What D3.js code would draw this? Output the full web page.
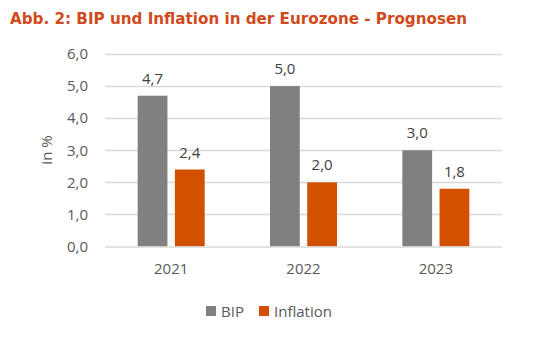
<!DOCTYPE html>
<html><head><meta charset="utf-8">
<script src="https://cdn.jsdelivr.net/npm/d3@7"></script>
<style>body{margin:0;background:#fff}svg{display:block}</style>
</head><body>
<script>
const categories = ["2021", "2022", "2023"];
const seriesNames = ["BIP", "Inflation"];
const bip = [4.7, 5.0, 3.0];
const inflation = [2.4, 2.0, 1.8];
const yTicks = [0, 1, 2, 3, 4, 5, 6];
const title = "Abb. 2: BIP und Inflation in der Eurozone - Prognosen";
const yTitle = "in %";
const colors = ["#808080", "#D35000"];

const W = 546, H = 337;
const svg = d3.select("body").append("svg").attr("width", W).attr("height", H);
const font = "'Open Sans', 'Liberation Sans', sans-serif";
const fmt = v => d3.format(".1f")(v).replace(".", ",");

const x = d3.scaleBand().domain(categories).range([105, 502]).paddingInner(0).paddingOuter(0);
const y = d3.scaleLinear().domain([0, 6]).range([246.5, 54]);
const xs = d3.scaleBand().domain(seriesNames).range([-33.5, 33.5]).paddingInner(0.2);

svg.append("text").attr("x", 10).attr("y", 24).text(title)
  .attr("font-family", "'DejaVu Sans Condensed', 'DejaVu Sans', sans-serif").attr("font-stretch", "condensed")
  .attr("font-weight", "bold")
  .attr("font-size", 16.5).attr("fill", "#D14A1B")
  .attr("textLength", 457).attr("lengthAdjust", "spacingAndGlyphs");

// gridlines
svg.append("g").selectAll("line").data(yTicks.slice(1)).join("line")
  .attr("x1", 105).attr("x2", 502).attr("y1", d => Math.round(y(d)) + 0.5).attr("y2", d => Math.round(y(d)) + 0.5)
  .attr("stroke", "#D9D9D9").attr("stroke-width", 1.3);

// y axis labels
const yAxis = d3.axisLeft(y).tickValues(yTicks).tickFormat(fmt).tickSize(0).tickPadding(0);
const ga = svg.append("g").attr("transform", "translate(88,0)").call(yAxis);
ga.select(".domain").remove();
ga.selectAll("text").attr("font-family", font).attr("font-size", 15).attr("fill", "#595959");

svg.append("text").attr("transform", "translate(52,150) rotate(-90)").attr("text-anchor", "middle")
  .text(yTitle).attr("font-family", font).attr("font-size", 15).attr("fill", "#595959");

const data = categories.map((c, i) => ({c, vals: [bip[i], inflation[i]]}));
const groups = svg.append("g").selectAll("g").data(data).join("g")
  .attr("transform", d => `translate(${x(d.c) + x.bandwidth() / 2},0)`);
groups.selectAll("rect").data(d => d.vals.map((v, j) => ({v, s: seriesNames[j], j}))).join("rect")
  .attr("x", d => xs(d.s)).attr("width", xs.bandwidth())
  .attr("y", d => y(d.v)).attr("height", d => y(0) - y(d.v))
  .attr("fill", d => colors[d.j]);
groups.selectAll("text").data(d => d.vals.map((v, j) => ({v, s: seriesNames[j], j}))).join("text")
  .attr("x", d => xs(d.s) + xs.bandwidth() / 2).attr("y", d => y(d.v) - 12)
  .attr("text-anchor", "middle").text(d => fmt(d.v))
  .attr("font-family", font).attr("font-size", 15).attr("fill", "#404040");

// baseline
svg.append("line").attr("x1", 105).attr("x2", 502).attr("y1", y(0) + 0.5).attr("y2", y(0) + 0.5)
  .attr("stroke", "#D9D9D9").attr("stroke-width", 1.3);

// x axis
const xAxis = d3.axisBottom(x).tickSize(0).tickPadding(0);
const gx = svg.append("g").attr("transform", `translate(0,${y(0) + 17})`).call(xAxis);
gx.select(".domain").remove();
gx.selectAll("text").attr("font-family", font).attr("font-size", 15).attr("fill", "#595959");

// legend
const legX = [206, 259];
const leg = svg.append("g").selectAll("g").data(seriesNames).join("g")
  .attr("transform", (d, i) => `translate(${legX[i]},306)`);
leg.append("rect").attr("width", 10).attr("height", 10).attr("fill", (d, i) => colors[i]);
leg.append("text").attr("x", 15).attr("y", 10.5).text(d => d)
  .attr("font-family", font).attr("font-size", 15).attr("fill", "#595959");
</script>
</body></html>
